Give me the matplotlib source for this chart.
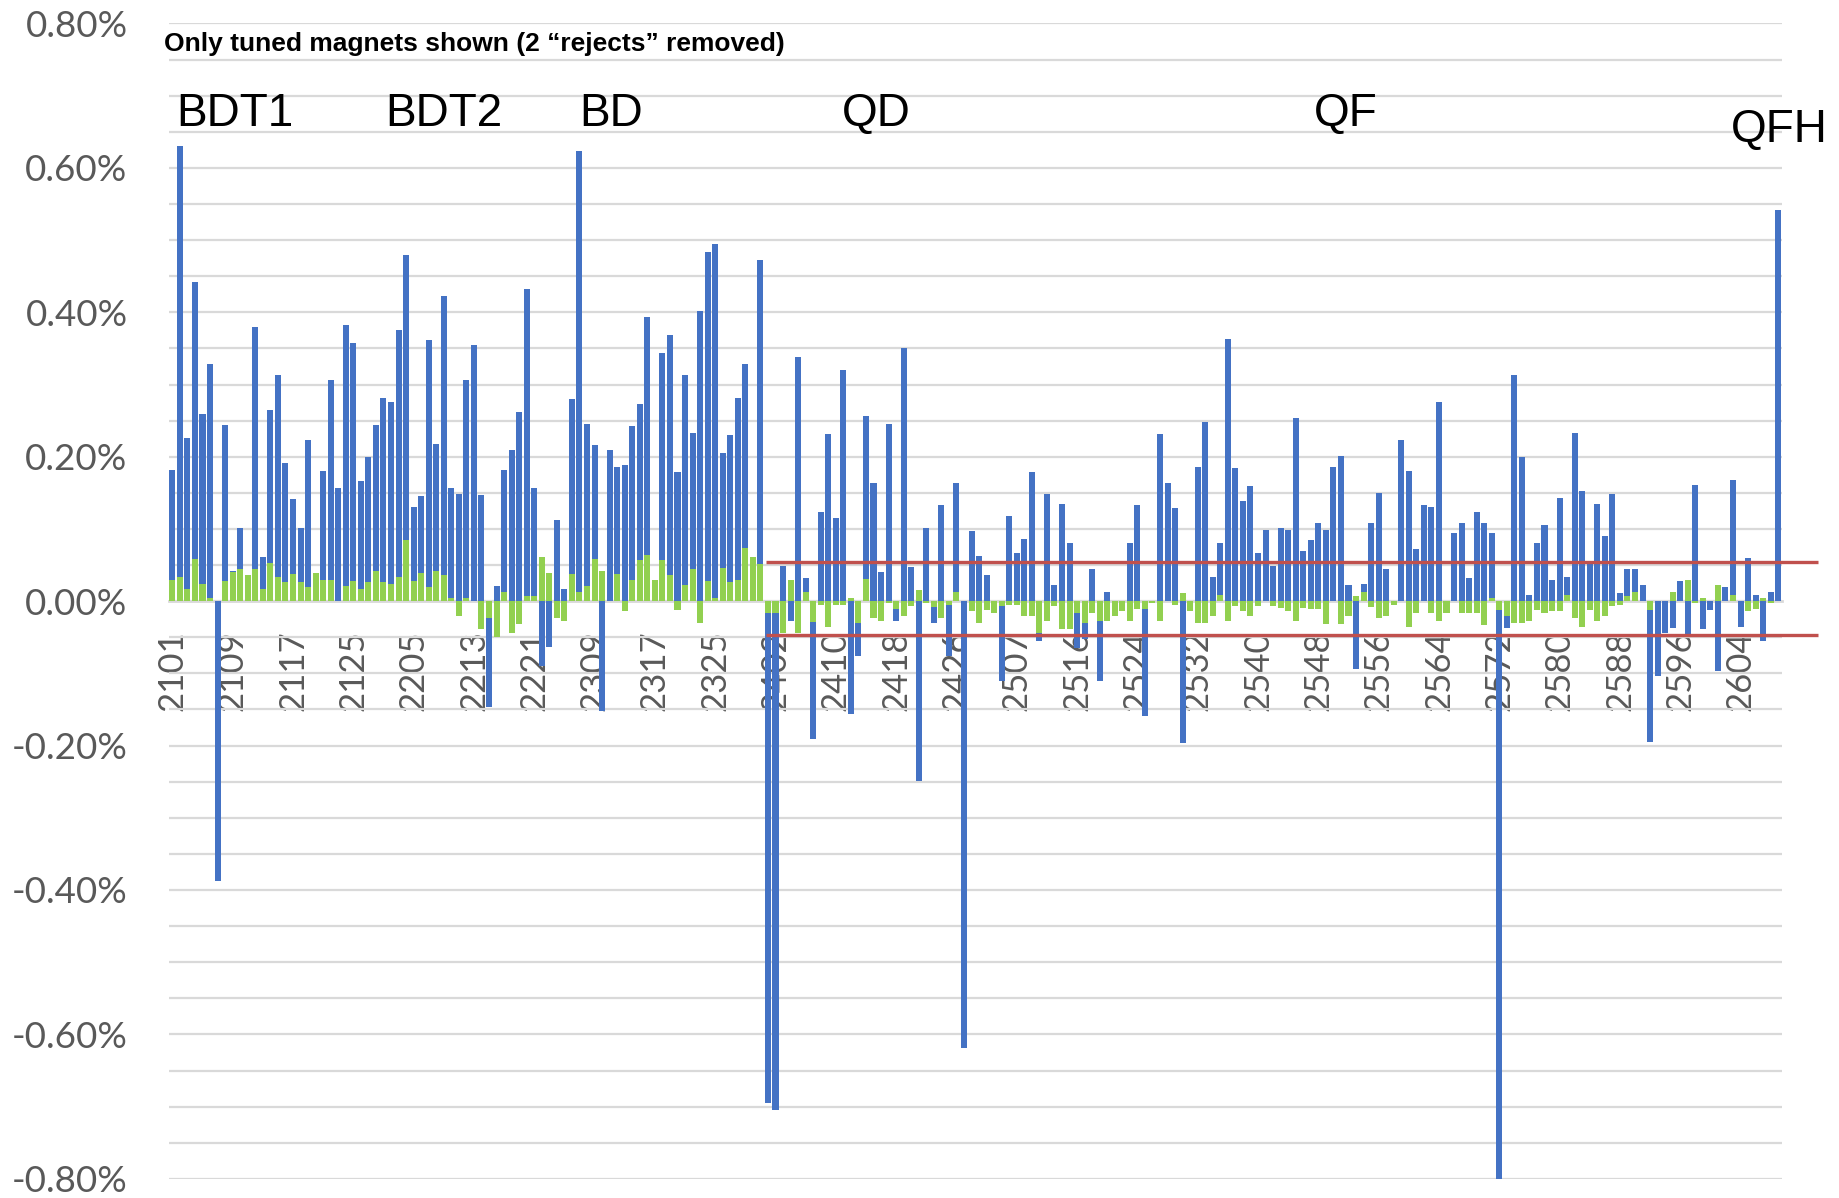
import matplotlib
matplotlib.use('Agg')
import matplotlib.pyplot as plt
from matplotlib.ticker import MultipleLocator
import numpy as np


# Tick labels shown on the category axis (every 8th magnet)
magnet_labels = ['2101', '2109', '2117', '2125', '2205', '2213', '2221', '2309', '2317',
                 '2325', '2402', '2410', '2418', '2426', '2507', '2516', '2524', '2532',
                 '2540', '2548', '2556', '2564', '2572', '2580', '2588', '2596', '2604']

# y axis ticks (percent) and their labels
y_ticks = [-0.8, -0.6, -0.4, -0.2, 0.0, 0.2, 0.4, 0.6, 0.8]
y_labels = ['-0.80%', '-0.60%', '-0.40%', '-0.20%', '0.00%', '0.20%', '0.40%', '0.60%', '0.80%']

# Magnet families written above the bars
family_names = ['BDT1', 'BDT2', 'BD', 'QD', 'QF', 'QFH']

# Field error in percent, one value per tuned magnet (214 magnets)
blue_vals = [
    0.182, 0.630, 0.226, 0.442, 0.259, 0.329, -0.387, 0.244, 0.042, 0.101,
    0.0, 0.379, 0.061, 0.265, 0.313, 0.192, 0.142, 0.101, 0.223, 0.0,
    0.180, 0.306, 0.157, 0.383, 0.358, 0.166, 0.200, 0.244, 0.281, 0.276,
    0.375, 0.480, 0.131, 0.145, 0.361, 0.217, 0.423, 0.157, 0.148, 0.306,
    0.355, 0.147, -0.146, 0.021, 0.182, 0.210, 0.262, 0.432, 0.157, -0.090,
    -0.064, 0.113, 0.017, 0.280, 0.624, 0.245, 0.216, -0.152, 0.209, 0.186,
    0.189, 0.242, 0.273, 0.393, 0.0, 0.343, 0.368, 0.179, 0.313, 0.233,
    0.402, 0.484, 0.495, 0.205, 0.230, 0.281, 0.329, 0.0, 0.473, -0.695,
    -0.705, 0.049, -0.028, 0.338, 0.032, -0.191, 0.124, 0.232, 0.115, 0.320,
    -0.156, -0.076, 0.256, 0.163, 0.040, 0.245, -0.028, 0.350, 0.047, -0.249,
    0.102, -0.030, 0.133, -0.076, 0.163, -0.619, 0.097, 0.062, 0.036, 0.0,
    -0.111, 0.118, 0.067, 0.086, 0.179, -0.055, 0.148, 0.023, 0.134, 0.081,
    -0.065, -0.053, 0.045, -0.110, 0.013, 0.0, 0.0, 0.080, 0.133, -0.159,
    0.0, 0.232, 0.163, 0.129, -0.197, 0.0, 0.186, 0.248, 0.033, 0.081,
    0.363, 0.184, 0.139, 0.159, 0.067, 0.099, 0.049, 0.102, 0.099, 0.253,
    0.069, 0.085, 0.108, 0.099, 0.186, 0.201, 0.023, -0.094, 0.024, 0.108,
    0.150, 0.044, 0.0, 0.223, 0.180, 0.072, 0.133, 0.131, 0.276, 0.0,
    0.095, 0.108, 0.032, 0.124, 0.108, 0.094, -0.802, -0.037, 0.313, 0.199,
    0.008, 0.081, 0.106, 0.029, 0.143, 0.033, 0.233, 0.152, 0.051, 0.134,
    0.090, 0.148, 0.011, 0.045, 0.045, 0.023, -0.195, -0.103, -0.044, -0.037,
    0.028, -0.045, 0.161, -0.039, -0.012, -0.097, 0.020, 0.168, -0.036, 0.060,
    0.008, -0.055, 0.013, 0.542,
]

green_vals = [
    0.029, 0.033, 0.017, 0.058, 0.024, 0.005, 0.0, 0.028, 0.041, 0.045,
    0.036, 0.045, 0.017, 0.053, 0.033, 0.027, 0.037, 0.027, 0.019, 0.039,
    0.029, 0.029, 0.0, 0.021, 0.028, 0.017, 0.027, 0.042, 0.027, 0.024,
    0.033, 0.085, 0.028, 0.039, 0.019, 0.042, 0.036, 0.005, -0.021, 0.005,
    0.0, -0.039, -0.024, -0.049, 0.013, -0.044, -0.032, 0.007, 0.007, 0.061,
    0.039, -0.023, -0.028, 0.037, 0.012, 0.021, 0.058, 0.042, 0.0, 0.037,
    -0.014, 0.029, 0.057, 0.064, 0.029, 0.057, 0.036, -0.012, 0.023, 0.044,
    -0.030, 0.028, 0.005, 0.046, 0.027, 0.029, 0.073, 0.061, 0.051, -0.016,
    -0.017, -0.044, 0.029, -0.044, 0.012, -0.029, -0.005, -0.036, -0.005, -0.005,
    0.004, -0.030, 0.030, -0.023, -0.028, -0.003, -0.011, -0.021, -0.007, 0.016,
    -0.003, -0.008, -0.023, -0.005, 0.012, 0.0, -0.014, -0.030, -0.012, -0.016,
    -0.007, -0.005, -0.005, -0.021, -0.021, -0.044, -0.027, -0.007, -0.039, -0.039,
    -0.017, -0.030, -0.017, -0.027, -0.027, -0.021, -0.014, -0.027, -0.011, -0.011,
    -0.003, -0.028, 0.0, -0.005, 0.011, -0.014, -0.030, -0.030, -0.021, 0.008,
    -0.028, -0.007, -0.014, -0.021, -0.007, 0.0, -0.007, -0.009, -0.014, -0.027,
    -0.009, -0.011, -0.011, -0.032, 0.0, -0.032, -0.021, 0.007, 0.012, -0.008,
    -0.023, -0.020, -0.005, 0.0, -0.036, -0.016, 0.0, -0.017, -0.028, -0.016,
    0.0, -0.017, -0.016, -0.017, -0.033, 0.005, -0.012, -0.021, -0.030, -0.030,
    -0.028, -0.012, -0.016, -0.014, -0.014, 0.008, -0.023, -0.036, -0.012, -0.028,
    -0.020, -0.007, -0.005, 0.007, 0.012, 0.0, -0.012, 0.0, 0.0, 0.012,
    0.0, 0.029, -0.003, 0.005, 0.0, 0.023, 0.0, 0.008, 0.0, -0.014,
    -0.011, 0.004, -0.003, 0.0,
]

# Tolerance band (percent) drawn from the quadrupoles onward
band_upper = 0.054
band_lower = -0.047

BLUE = '#4472C4'
GREEN = '#92D050'
RED = '#C0504D'
GRID = '#D9D9D9'
TEXT = '#595959'


def build_chart():
    n = len(blue_vals)
    x = np.arange(n)

    fig = plt.figure(figsize=(18.39, 11.98), dpi=100)
    ax = fig.add_axes([0.0920, 0.0160, 0.8768, 0.9644])

    # category axis crosses at zero (set first, it resets the ticks)
    for side in ['left', 'right', 'top']:
        ax.spines[side].set_visible(False)
    ax.spines['bottom'].set_position(('data', 0))
    ax.spines['bottom'].set_color(GRID)
    ax.spines['bottom'].set_linewidth(2)
    ax.spines['bottom'].set_zorder(2)

    # Blue and green bars share the same slot, green in front
    ax.bar(x, blue_vals, width=0.8, color=BLUE, zorder=3)
    ax.bar(x, green_vals, width=0.8, color=GREEN, zorder=4)

    ax.set_xlim(-0.42, n - 0.55)
    ax.set_ylim(-0.8, 0.8)

    # y axis: labels every 0.20 %, gridlines every 0.05 %
    ax.set_yticks(y_ticks)
    ax.set_yticklabels(y_labels)
    ax.yaxis.set_minor_locator(MultipleLocator(0.05))
    ax.grid(axis='y', which='both', color=GRID, linewidth=1.6, zorder=0)
    ax.tick_params(axis='y', which='both', length=0, pad=30,
                   labelsize=26.5, labelcolor=TEXT)

    tick_pos = np.arange(0, n, 8)
    ax.set_xticks(tick_pos)
    ax.set_xticklabels(magnet_labels)
    ax.tick_params(axis='x', length=0, pad=21, labelsize=25,
                   labelcolor=TEXT, labelrotation=90)

    # red tolerance lines, running past the right edge
    for lvl in [band_upper, band_lower]:
        ax.plot([78.7, 218.3], [lvl, lvl], color=RED, linewidth=2.4,
                zorder=5, clip_on=False, solid_capstyle='butt')

    # family names
    fam_x = [0.5, 28.2, 54.0, 88.8, 151.4, 206.7]
    fam_y = [0.675, 0.675, 0.675, 0.675, 0.675, 0.652]
    for name, fx, fy in zip(family_names, fam_x, fam_y):
        ax.text(fx, fy, name, fontsize=33, color='black', ha='left',
                va='center', family=['Liberation Sans', 'DejaVu Sans'],
                clip_on=False, zorder=6)

    ax.text(-1.1, 0.771, 'Only tuned magnets shown (2 \u201crejects\u201d removed)',
            fontsize=19, fontweight='bold', ha='left', va='center',
            family=['Liberation Sans', 'DejaVu Sans'], zorder=6)

    fig.savefig('out.png', dpi=100)


def main():
    plt.rcParams['font.family'] = ['Lato', 'DejaVu Sans']
    build_chart()
    print('Done!')


main()
